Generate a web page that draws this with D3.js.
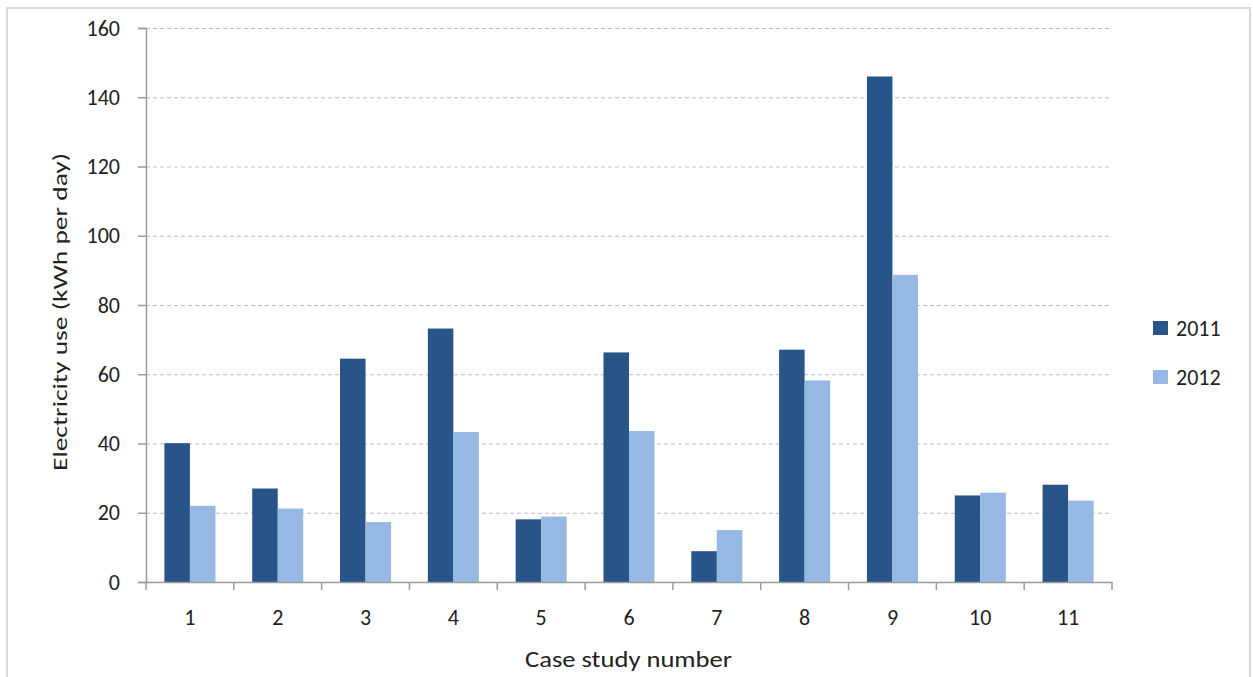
<!DOCTYPE html>
<html>
<head>
<meta charset="utf-8">
<script src="https://cdn.jsdelivr.net/npm/d3@7"></script>
<style>
  html, body { margin: 0; padding: 0; background: #fff; }
  svg { display: block; }
  text { font-family: Carlito, Lato, "Open Sans", sans-serif; fill: #222; }
</style>
</head>
<body>
<svg id="chart" width="1253" height="677"></svg>
<script>
const categories = ["1","2","3","4","5","6","7","8","9","10","11"];
const seriesNames = ["2011","2012"];
const values2011 = [40.1, 27.0, 64.5, 73.2, 18.1, 66.3, 8.9, 67.1, 146.0, 25.0, 28.1];
const values2012 = [22.0, 21.2, 17.3, 43.3, 18.9, 43.6, 15.0, 58.2, 88.7, 25.8, 23.5];
const yTicks = [0, 20, 40, 60, 80, 100, 120, 140, 160];
const colors = ["#28548a", "#95b9e3"];

const svg = d3.select("#chart");
const W = 1253, H = 677;
const FONT = "Carlito, Lato, 'Open Sans', sans-serif";

// outer frame
svg.append("rect").attr("x", 7).attr("y", 8).attr("width", W - 10).attr("height", H + 10)
  .attr("fill", "none").attr("stroke", "#d9d9d9").attr("stroke-width", 2);

const m = { left: 146, right: 1112, top: 28, bottom: 582 };

const x = d3.scaleBand().domain(categories).range([m.left, m.right]).paddingInner(0).paddingOuter(0);
const xs = d3.scaleBand().domain(seriesNames).range([0, x.bandwidth()]).paddingInner(0).paddingOuter(0.72);
const y = d3.scaleLinear().domain([0, 160]).range([m.bottom, m.top]);

// gridlines
svg.append("g").selectAll("line").data(yTicks.filter(d => d > 0)).join("line")
  .attr("x1", m.left).attr("x2", m.right)
  .attr("y1", d => y(d) + 0.5).attr("y2", d => y(d) + 0.5)
  .attr("stroke", "#bfbfbf").attr("stroke-width", 1).attr("stroke-dasharray", "4,3");

// bars
const data = categories.map((c, i) => ({ c, vals: [values2011[i], values2012[i]] }));
const groups = svg.append("g").selectAll("g").data(data).join("g")
  .attr("transform", d => `translate(${x(d.c)},0)`);
groups.selectAll("rect").data(d => d.vals.map((v, j) => ({ s: seriesNames[j], v, j }))).join("rect")
  .attr("x", d => xs(d.s)).attr("width", xs.bandwidth())
  .attr("y", d => y(d.v)).attr("height", d => y(0) - y(d.v))
  .attr("fill", d => colors[d.j]);

// y axis
const yAxis = d3.axisLeft(y).tickValues(yTicks).tickSize(8).tickPadding(18).tickFormat(d3.format("d"));
const gy = svg.append("g").attr("transform", `translate(${m.left},0)`).call(yAxis);
gy.select(".domain").attr("stroke", "#9a9a9a").attr("stroke-width", 1.5);
gy.selectAll(".tick line").attr("stroke", "#9a9a9a").attr("stroke-width", 1.5);
gy.selectAll(".tick text").attr("font-size", 22).attr("fill", "#222").style("font-family", FONT);

// x axis
const xAxis = d3.axisBottom(x).tickSize(0).tickPadding(27);
const gx = svg.append("g").attr("transform", `translate(0,${m.bottom})`).call(xAxis);
gx.select(".domain").attr("stroke", "#9a9a9a").attr("stroke-width", 1.5);
gx.selectAll(".tick text").attr("font-size", 22).attr("fill", "#222").style("font-family", FONT);
// category boundary ticks
const bounds = categories.map(c => x(c)).concat([x(categories[categories.length - 1]) + x.bandwidth()]);
gx.append("g").selectAll("line").data(bounds).join("line")
  .attr("x1", d => d).attr("x2", d => d).attr("y1", 0).attr("y2", 8)
  .attr("stroke", "#9a9a9a").attr("stroke-width", 1.5);

// axis titles
svg.append("text").attr("x", 628.5).attr("y", 667)
  .attr("text-anchor", "middle").attr("font-size", 23)
  .attr("textLength", 207).attr("lengthAdjust", "spacingAndGlyphs").text("Case study number");
svg.append("text").attr("transform", `translate(67,312) rotate(-90)`)
  .attr("text-anchor", "middle").attr("font-size", 21)
  .attr("textLength", 318).attr("lengthAdjust", "spacingAndGlyphs").text("Electricity use (kWh per day)");

// legend
const legend = svg.append("g").selectAll("g").data(seriesNames).join("g")
  .attr("transform", (d, i) => `translate(1153,${321 + i * 49})`);
legend.append("rect").attr("width", 15).attr("height", 14).attr("fill", (d, i) => colors[i]);
legend.append("text").attr("x", 23).attr("y", 15).attr("font-size", 22).text(d => d);
</script>
</body>
</html>
